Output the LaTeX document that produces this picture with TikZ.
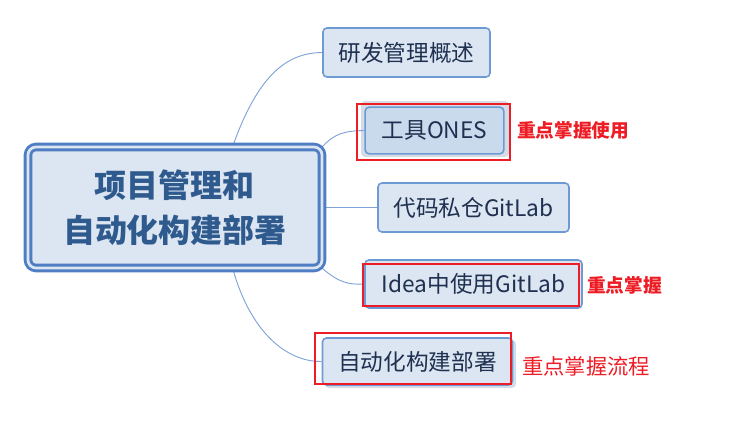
\documentclass[tikz,border=0pt]{standalone}
\usepackage{fontspec}
\setmainfont{Noto Sans CJK SC}
\usetikzlibrary{backgrounds}
\definecolor{nodefill}{HTML}{DCE6F2}
\definecolor{nodefilltwo}{HTML}{C8DAEC}
\definecolor{nodeline}{HTML}{6E9AD4}
\definecolor{nodetext}{HTML}{1F3050}
\definecolor{maintext}{HTML}{2F5A8E}
\definecolor{mainline}{HTML}{4F7DC3}
\definecolor{linkline}{HTML}{7FA3D8}
\definecolor{markred}{HTML}{EE1C25}
\definecolor{shadowc}{HTML}{D5DCE6}
\tikzset{
  topic/.style={draw=nodeline, line width=1.2pt, fill=nodefill, rounded corners=3pt,
    text=nodetext, font=\fontsize{17}{20}\selectfont, inner sep=0pt},
  central/.style={draw=mainline, line width=2.2pt, double=nodefill, double distance=2pt,
    fill=nodefill, rounded corners=6pt, text=maintext,
    font=\fontsize{24}{34}\selectfont\bfseries, align=center, inner sep=0pt},
  link/.style={draw=linkline, line width=0.7pt},
  redbox/.style={draw=markred, line width=2pt},
  redlabel/.style={text=markred, inner sep=0pt},
  shadowbox/.style={fill=shadowc, rounded corners=3pt}
}
\begin{document}
\begin{tikzpicture}[x=0.75pt, y=-0.75pt]
\useasboundingbox (0,0) rectangle (729,421);
% central
\node[central, minimum width=220.5pt, minimum height=90.75pt] (c) at (175,207.5) {项目管理和\\自动化构建部署};
% topics
\node[topic, minimum width=125.25pt, minimum height=36.75pt] (t1) at (406.5,52.5) {研发管理概述};
\node[topic, fill=nodefilltwo, minimum width=104pt, minimum height=35pt] (t2) at (434.5,130.5) {工具ONES};
\node[topic, minimum width=143.25pt, minimum height=36.75pt] (t3) at (473.5,207.5) {代码私仓GitLab};
\node[topic, minimum width=162.75pt, minimum height=36pt] (t4) at (473.5,284) {Idea中使用GitLab};
\node[topic, minimum width=142.5pt, minimum height=35.25pt] (t5) at (417.5,361.5) {自动化构建部署};
% red labels
\node[redlabel, font=\fontsize{14}{16}\selectfont\bfseries, anchor=west] (r2) at (517,130) {重点掌握使用};
\node[redlabel, font=\fontsize{14}{16}\selectfont\bfseries, anchor=west] (r4) at (587,285) {重点掌握};
\node[redlabel, font=\fontsize{16}{18}\selectfont, anchor=west] (r5) at (522,366) {重点掌握流程};
\begin{scope}[on background layer]
  \fill[shadowbox] (361,101) rectangle (509,157);
  \fill[shadowbox] (325,340) rectangle (516,388);
  \draw[link] ([xshift=43.5pt]c.north) .. controls (260,70) and (290,53) .. (t1.west);
  \draw[link] ([xshift=-1pt,yshift=-1pt]c.north east) .. controls (335,133) and (345,131) .. (t2.west);
  \draw[link] (c.east) -- (t3.west);
  \draw[link] ([xshift=-1pt,yshift=1pt]c.south east) .. controls (338,282) and (348,285) .. (t4.west);
  \draw[link] ([xshift=43.5pt]c.south) .. controls (250,330) and (285,362) .. (t5.west);
\end{scope}
% red highlight frames
\draw[redbox] (357,104) rectangle (510,160);
\draw[redbox] (363,264) rectangle (579,306);
\draw[redbox] (315,333) rectangle (511,384);
\end{tikzpicture}
\end{document}
